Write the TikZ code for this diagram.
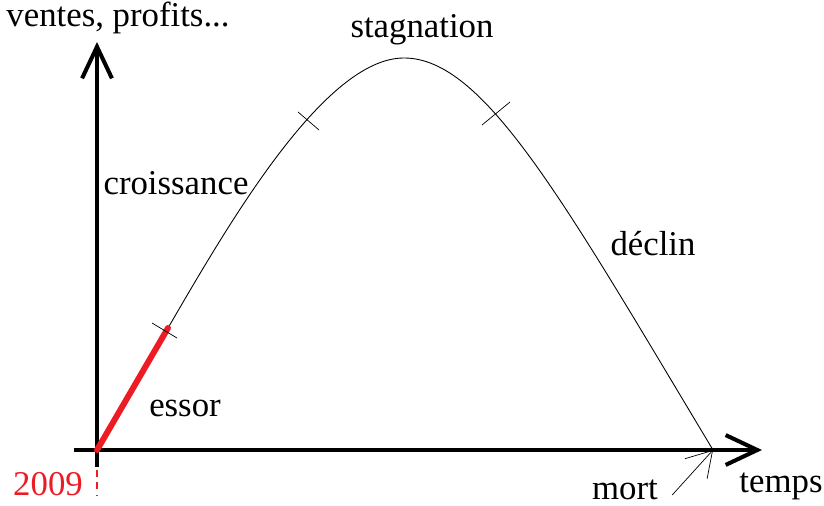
\documentclass[tikz,border=0pt]{standalone}
\usepackage{fontspec}
\setmainfont{Liberation Serif}
\usepackage{tikz}
\usetikzlibrary{calc,arrows.meta}

\definecolor{paintred}{RGB}{237,28,36}

\begin{document}
\begin{tikzpicture}[x=0.02cm,y=-0.02cm,
        axis/.style={line width=2.3pt,-{Straight Barb[length=18pt,width=17pt]}},
        label/.style={font=\fontsize{19.8}{24}\selectfont,inner sep=0pt},
        tick/.style={line width=0.4pt}]
        \useasboundingbox (0,0) rectangle (824,506);

        % --- 1. Define Coordinates ---
        \coordinate (O) at (97,450);
        \coordinate (Ybot) at (97,467);
        \coordinate (Ytop) at (97,42);
        \coordinate (Xleft) at (74,450);
        \coordinate (Xright) at (762,450);
        \coordinate (Essor) at (168,328);
        \coordinate (Croiss) at (309,121);
        \coordinate (Top) at (404,58);
        \coordinate (Stag) at (495,114);
        \coordinate (Mort) at (713,450);

        % --- 2. Draw the Axes ---
        \draw[axis] (Xleft) -- (Xright);
        \draw[axis] (Ybot) -- (Ytop);
        \draw[paintred,line width=0.6pt,dash pattern=on 4pt off 3pt] (97,470) -- (97,496);

        % --- 3. Draw the Curve ---
        \draw[line width=0.5pt] (Essor) .. controls (228,225) and (324,58) .. (Top)
            .. controls (484,58) and (563,200) .. (Mort);
        \draw[paintred,line width=3.4pt,line cap=round] (O) -- (Essor);

        % --- 4. Tick Marks ---
        \draw[tick] ($(Essor)+(-16,-5)$) -- ($(Essor)+(9,10)$);
        \draw[tick] ($(Croiss)+(-11,-9)$) -- ($(Croiss)+(10,9)$);
        \draw[tick] ($(Stag)+(-13,11)$) -- ($(Stag)+(15,-12)$);

        % --- 5. Labels ---
        \node[label] (yl) at (118,18) {ventes, profits...};
        \node[label] (xl) at (781,486) {temps};
        \node[label] (stagnation) at (422,30) {stagnation};
        \node[label] (croissance) at (176,183) {croissance};
        \node[label] (declin) at (653,244) {déclin};
        \node[label] (essor) at (185,408) {essor};
        \node[label] (mort) at (625,490) {mort};
        \node[label,text=paintred] (annee) at (48,484) {2009};

        % --- 6. Arrow to the End ---
        \draw[line width=0.4pt,-{Straight Barb[length=14pt,width=17pt]}]
            ($(mort.east)+(14,5)$) -- (Mort);
\end{tikzpicture}
\end{document}
